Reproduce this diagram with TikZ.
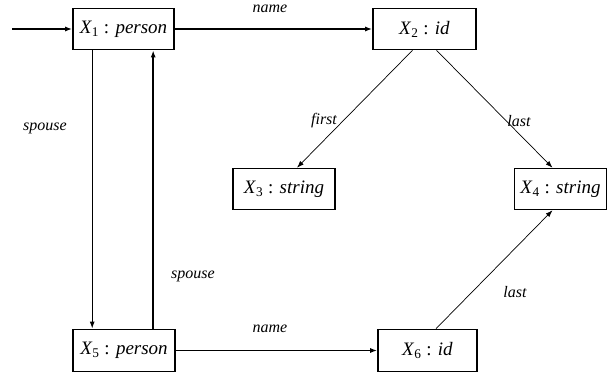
\documentclass[tikz,border=0pt]{standalone}
\usepackage{fontspec}
\setmainfont{Liberation Serif}
\usetikzlibrary{calc,arrows.meta}
\begin{document}
\begin{tikzpicture}[x=1pt,y=-1pt,
  box/.style={draw, line width=1.6pt, minimum width=101pt, minimum height=41pt, inner sep=0pt, font=\fontsize{19}{22}\selectfont},
  edge/.style={-{Latex[length=7pt,width=5pt]}, line width=1.3pt},
  thinedge/.style={-{Latex[length=7pt,width=5pt]}, line width=0.7pt},
  lab/.style={font=\itshape\fontsize{16}{19}\selectfont, inner sep=1pt}]
\useasboundingbox (0,0) rectangle (608,376);
\node[box] (x1) at (123.5,29) {\textit{X}\textsubscript{1} : \textit{person}};
\node[box, minimum width=103pt] (x2) at (424.5,29) {\textit{X}\textsubscript{2} : \textit{id}};
\node[box, minimum width=102pt] (x3) at (284,189) {\textit{X}\textsubscript{3} : \textit{string}};
\node[box, minimum width=92pt] (x4) at (560.5,189) {\textit{X}\textsubscript{4} : \textit{string}};
\node[box, minimum width=102pt, minimum height=42pt] (x5) at (124,350.5) {\textit{X}\textsubscript{5} : \textit{person}};
\node[box, minimum width=99pt, minimum height=42pt] (x6) at (427.5,350.5) {\textit{X}\textsubscript{6} : \textit{id}};
\coordinate (in) at (12,29);
\draw[edge] (in) -- (x1);
\draw[edge] (x1) -- (x2);
\draw[edge] (x5) -- (x6);
\draw[edge] ($(x1.south west)+(20,0)$) -- ($(x5.north west)+(20,0)$);
\draw[edge, line width=1.7pt] ($(x5.north west)+(81,0)$) -- ($(x1.south west)+(81,0)$);
\draw[thinedge] ($(x2.south)+(-12,0)$) -- ($(x3.north)+(13,0)$);
\draw[thinedge] ($(x2.south)+(12,0)$) -- ($(x4.north)+(-8,0)$);
\draw[thinedge] ($(x6.north)+(8.5,0)$) -- ($(x4.south)+(-8,0)$);
\node[lab] (l1) at (270,9) {name};
\node[lab] (l2) at (324,121) {first};
\node[lab] (l3) at (519,121) {last};
\node[lab] (l4) at (45,128) {spouse};
\node[lab] (l5) at (193,276) {spouse};
\node[lab] (l6) at (270,329) {name};
\node[lab] (l7) at (515,292) {last};
\end{tikzpicture}
\end{document}
